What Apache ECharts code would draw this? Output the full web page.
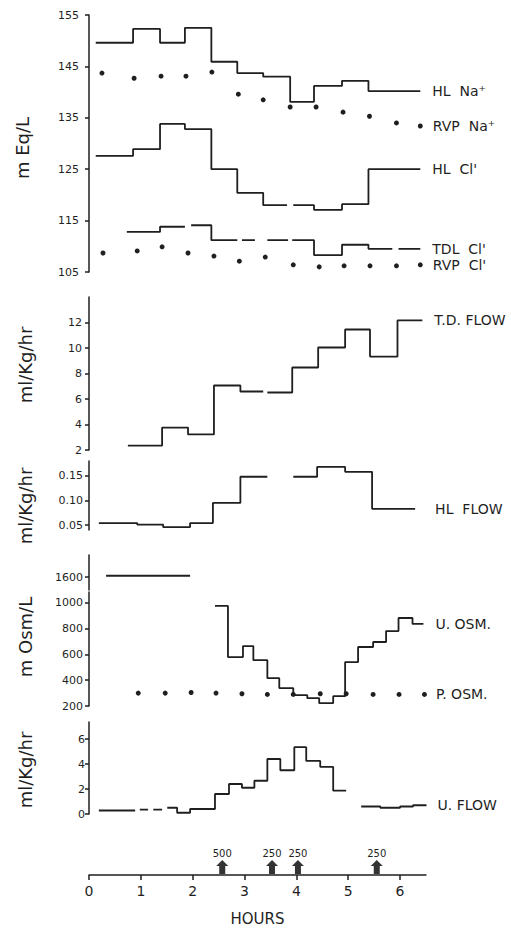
<!DOCTYPE html>
<html><head><meta charset="utf-8">
<script src="https://cdn.jsdelivr.net/npm/echarts@6/dist/echarts.min.js"></script>
<style>html,body{margin:0;padding:0;background:#fff}#c{width:511px;height:928px}</style>
</head><body><div id="c"></div>
<script>
// ---------- DATA (hours on x) ----------
// Panel 1: mEq/L
const hlNaStart = [0.13, 0.85, 1.37, 1.85, 2.36, 2.86, 3.36, 3.88, 4.34, 4.88, 5.39];
const hlNaEnd   = [0.85, 1.37, 1.85, 2.36, 2.86, 3.36, 3.88, 4.34, 4.88, 5.39, 6.39];
const hlNaVal   = [149.6, 152.3, 149.6, 152.5, 145.9, 143.7, 143.0, 138.1, 141.2, 142.2, 140.2];

const rvpNaHour = [0.25, 0.87, 1.39, 1.87, 2.37, 2.88, 3.36, 3.88, 4.38, 4.90, 5.41, 5.93, 6.39];
const rvpNaVal  = [143.7, 142.7, 143.1, 143.1, 143.9, 139.6, 138.5, 137.1, 137.1, 136.1, 135.3, 134.0, 133.4];

const hlClStart = [0.13, 0.85, 1.37, 1.85, 2.36, 2.86, 3.36, 3.94, 4.34, 4.88, 5.39];
const hlClEnd   = [0.85, 1.37, 1.85, 2.36, 2.86, 3.36, 3.82, 4.34, 4.88, 5.39, 6.39];
const hlClVal   = [127.6, 128.9, 133.8, 132.8, 125.0, 120.4, 118.0, 118.0, 117.1, 118.2, 125.0];

const tdlClStart = [0.73, 1.37, 1.97, 2.36, 2.95, 3.44, 3.92, 4.34, 4.88, 5.39, 5.97];
const tdlClEnd   = [1.37, 1.85, 2.36, 2.86, 3.20, 3.84, 4.34, 4.88, 5.39, 5.85, 6.39];
const tdlClVal   = [112.8, 113.8, 114.1, 111.2, 111.2, 111.2, 111.2, 108.3, 110.3, 109.5, 109.5];

const rvpClHour = [0.27, 0.93, 1.41, 1.91, 2.41, 2.90, 3.40, 3.94, 4.44, 4.92, 5.42, 5.93, 6.39];
const rvpClVal  = [108.7, 109.1, 109.9, 108.7, 108.1, 107.1, 107.9, 106.4, 106.0, 106.2, 106.2, 106.2, 106.4];

// Panel 2: T.D. flow (ml/Kg/hr)
const tdFlowStart = [0.75, 1.41, 1.91, 2.41, 2.92, 3.44, 3.92, 4.42, 4.94, 5.42, 5.95];
const tdFlowEnd   = [1.41, 1.91, 2.41, 2.92, 3.36, 3.92, 4.42, 4.94, 5.42, 5.95, 6.43];
const tdFlowVal   = [2.35, 3.76, 3.22, 7.06, 6.59, 6.51, 8.47, 10.04, 11.45, 9.33, 12.16];

// Panel 3: HL flow (ml/Kg/hr)
const hlFlowStart = [0.19, 0.93, 1.43, 1.95, 2.39, 2.92, 3.94, 4.40, 4.94, 5.46];
const hlFlowEnd   = [0.93, 1.43, 1.95, 2.39, 2.92, 3.44, 4.40, 4.94, 5.46, 6.29];
const hlFlowVal   = [0.054, 0.051, 0.046, 0.054, 0.095, 0.148, 0.148, 0.168, 0.158, 0.083];

// Panel 4: osmolality (mOsm/L)
const uOsmHighStart = [0.33];
const uOsmHighEnd   = [1.95];
const uOsmHighVal   = [1605];
const uOsmStart = [2.43, 2.68, 2.97, 3.17, 3.44, 3.67, 3.94, 4.21, 4.44, 4.71, 4.94, 5.19, 5.48, 5.73, 5.97, 6.24];
const uOsmEnd   = [2.68, 2.97, 3.17, 3.44, 3.67, 3.94, 4.21, 4.44, 4.71, 4.94, 5.19, 5.48, 5.73, 5.97, 6.24, 6.45];
const uOsmVal   = [977, 580, 665, 556, 416, 339, 284, 261, 222, 276, 541, 658, 697, 782, 883, 837];
const pOsmHour = [0.95, 1.47, 1.97, 2.45, 2.95, 3.44, 3.94, 4.46, 4.96, 5.48, 5.98, 6.47];
const pOsmVal  = [300, 300, 305, 300, 295, 290, 290, 295, 295, 290, 290, 290];

// Panel 5: U. flow (ml/Kg/hr)
const uFlowStart = [0.19, 0.98, 1.24, 1.51, 1.70, 1.95, 2.43, 2.70, 2.95, 3.19, 3.44, 3.69, 3.96, 4.19, 4.46, 4.71, 5.25, 5.62, 6.00, 6.25];
const uFlowEnd   = [0.89, 1.14, 1.41, 1.70, 1.95, 2.43, 2.70, 2.95, 3.19, 3.44, 3.69, 3.96, 4.19, 4.46, 4.71, 4.96, 5.62, 6.00, 6.25, 6.51];
const uFlowVal   = [0.28, 0.35, 0.35, 0.5, 0.1, 0.4, 1.6, 2.4, 2.1, 2.66, 4.4, 3.5, 5.35, 4.25, 3.77, 1.87, 0.6, 0.5, 0.6, 0.7];

// Doses (arrows on time axis)
const doseHour  = [2.57, 3.53, 4.03, 5.55];
const doseLabel = ['500', '250', '250', '250'];

// Tick labels
const hourTicks   = [0, 1, 2, 3, 4, 5, 6];
const meqTicks    = [105, 115, 125, 135, 145, 155];
const tdTicks     = [2, 4, 6, 8, 10, 12];
const hlTicks     = [0.05, 0.10, 0.15];
const osmHiTicks  = [1600];
const osmTicks    = [200, 400, 600, 800, 1000];
const uFlowTicks  = [0, 2, 4, 6];

// ---------- CHART ----------
const FONT = 'DejaVu Sans';
const INK = '#1f1f1f';

function steps(starts, ends, vals) {
  const out = [];
  for (let i = 0; i < starts.length; i++) {
    if (i > 0 && Math.abs(starts[i] - ends[i - 1]) > 1e-6) out.push([ends[i - 1], '-']);
    out.push([starts[i], vals[i]]);
    out.push([ends[i], vals[i]]);
  }
  return out;
}
function pts(xs, ys, name, dist) {
  return xs.map((x, i) => i === xs.length - 1
    ? { value: [x, ys[i]], label: { show: true, position: 'right', distance: dist, formatter: name,
        fontFamily: FONT, fontSize: 14, color: INK, opacity: 1 } }
    : [x, ys[i]]);
}
function stepSeries(name, label, gi, data, dist) {
  return {
    type: 'line', name, xAxisIndex: gi, yAxisIndex: gi, data,
    symbol: 'none', showSymbol: false, animation: false, connectNulls: false,
    lineStyle: { color: INK, width: 1.8 },
    endLabel: label ? { show: true, formatter: label, distance: dist, fontFamily: FONT, fontSize: 14, color: INK } : { show: false }
  };
}
function dotSeries(name, gi, data) {
  return { type: 'scatter', name, xAxisIndex: gi, yAxisIndex: gi, data, animation: false,
    symbol: 'circle', symbolSize: 5, itemStyle: { color: INK, opacity: 1 } };
}
function yAx(gi, min, max, ticks, offset, fmt) {
  return {
    type: 'value', gridIndex: gi, min, max, offset,
    axisLine: { show: true, lineStyle: { color: INK, width: 1.5 } },
    axisTick: { show: true, length: 4, lineStyle: { color: INK, width: 1.5 }, customValues: ticks },
    axisLabel: { customValues: ticks, fontSize: 11, fontFamily: FONT, color: INK, margin: 4,
      formatter: fmt || (v => String(v)) },
    splitLine: { show: false }
  };
}
const L = 89, W = 337;
const grids = [
  { left: L, width: W, top: 15,  height: 257 },
  { left: L, width: W, top: 297, height: 153 },
  { left: L, width: W, top: 461, height: 69 },
  { left: L, width: W, top: 555, height: 35 },
  { left: L, width: W, top: 592, height: 114 },
  { left: L, width: W, top: 722, height: 92 },
  { left: L, width: W, top: 835, height: 40 }
];
const xAxes = grids.map((g, i) => ({
  type: 'value', gridIndex: i, min: 0, max: 6.5, show: i === 6,
  interval: 1,
  axisLine: { show: true, lineStyle: { color: INK, width: 1.5 } },
  axisTick: { show: true, length: 5, lineStyle: { color: INK, width: 1.5 }, customValues: hourTicks },
  axisLabel: { customValues: hourTicks, fontSize: 14, fontFamily: FONT, color: INK, margin: 9 },
  splitLine: { show: false },
  name: i === 6 ? 'HOURS' : '', nameLocation: 'middle', nameGap: 36,
  nameTextStyle: { fontSize: 15, fontFamily: FONT, color: INK }
}));
const yAxes = [
  yAx(0, 105, 155, meqTicks, 6),
  yAx(1, 2, 14, tdTicks, 3),
  yAx(2, 0.04, 0.18, hlTicks, 2, v => v.toFixed(2)),
  yAx(3, 1548, 1688, osmHiTicks, 2),
  yAx(4, 200, 1085, osmTicks, 2),
  yAx(5, 0, 7.36, uFlowTicks, 0),
  { type: 'value', gridIndex: 6, min: 0, max: 1, show: false }
];

const series = [
  stepSeries('HL Na', 'HL  Na⁺', 0, steps(hlNaStart, hlNaEnd, hlNaVal), 12),
  dotSeries('RVP Na', 0, pts(rvpNaHour, rvpNaVal, 'RVP  Na⁺', 10)),
  stepSeries('HL Cl', "HL  Cl'", 0, steps(hlClStart, hlClEnd, hlClVal), 12),
  stepSeries('TDL Cl', "TDL  Cl'", 0, steps(tdlClStart, tdlClEnd, tdlClVal), 12),
  dotSeries('RVP Cl', 0, pts(rvpClHour, rvpClVal, "RVP  Cl'", 10)),
  stepSeries('TD flow', 'T.D. FLOW', 1, steps(tdFlowStart, tdFlowEnd, tdFlowVal), 12),
  stepSeries('HL flow', 'HL  FLOW', 2, steps(hlFlowStart, hlFlowEnd, hlFlowVal), 20),
  stepSeries('U osm high', null, 3, steps(uOsmHighStart, uOsmHighEnd, uOsmHighVal), 0),
  stepSeries('U osm', 'U. OSM.', 4, steps(uOsmStart, uOsmEnd, uOsmVal), 12),
  dotSeries('P osm', 4, pts(pOsmHour, pOsmVal, 'P. OSM.', 9)),
  stepSeries('U flow', 'U. FLOW', 5, steps(uFlowStart, uFlowEnd, uFlowVal), 11),
  {
    type: 'scatter', name: 'dose', xAxisIndex: 6, yAxisIndex: 6, animation: false,
    data: doseHour.map((h, i) => ({ value: [h, 0], name: doseLabel[i] })),
    symbol: 'path://M6 0 L12 6 L9 6 L9 14 L3 14 L3 6 L0 6 Z',
    symbolSize: [12, 14], symbolOffset: [0, -8],
    itemStyle: { color: '#333', opacity: 1 },
    label: { show: true, position: 'top', distance: 2, formatter: p => p.name,
      fontFamily: FONT, fontSize: 10, color: INK }
  }
];

function ytitle(text, x, y) {
  return { type: 'text', x, y, rotation: Math.PI / 2,
    style: { text, fontFamily: FONT, fontSize: 18, fill: INK, align: 'center', verticalAlign: 'middle',
      textAlign: 'center', textVerticalAlign: 'middle' } };
}

const chart = echarts.init(document.getElementById('c'), null, { renderer: 'svg' });
chart.setOption({
  backgroundColor: '#fff',
  animation: false,
  grid: grids,
  xAxis: xAxes,
  yAxis: yAxes,
  series,
  graphic: [
    ytitle('m Eq/L', 22, 148),
    ytitle('ml/Kg/hr', 25, 365),
    ytitle('ml/Kg/hr', 25, 506),
    ytitle('m Osm/L', 25, 637),
    ytitle('ml/Kg/hr', 25, 770)
  ]
});
</script></body></html>
